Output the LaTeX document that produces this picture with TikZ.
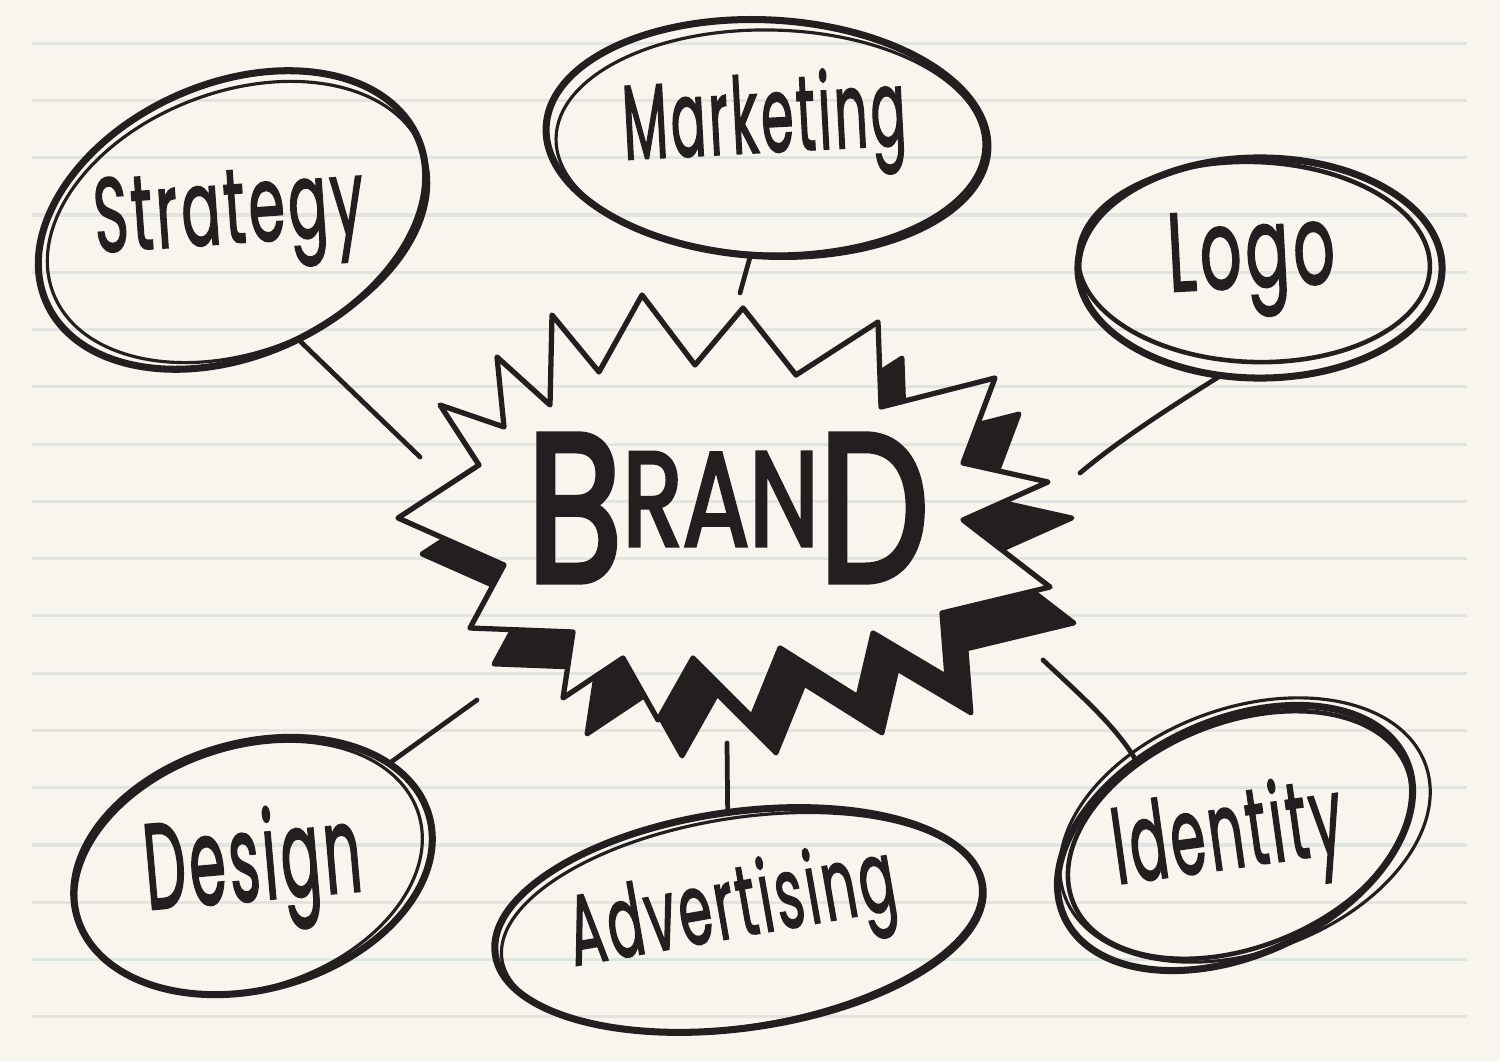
\documentclass[tikz,border=0pt]{standalone}
\usepackage{fontspec}
\setmainfont{Poppins}
\newfontfamily\hand{Poppins}[FakeBold=2.2, LetterSpace=6]
\newfontfamily\handbig{Poppins}[FakeBold=3]
\usetikzlibrary{shapes.geometric}
\definecolor{paper}{HTML}{F8F5EE}
\definecolor{rulecol}{HTML}{E1E5E2}
\definecolor{ink}{HTML}{231F20}
\newlength\pxu \setlength\pxu{0.01cm}
\newcommand\burstpath{(398,518) -- (479,465) -- (440,405) -- (504,427) -- (497,357) -- (550,405) -- (552,315) -- (599,372) -- (642,295) -- (695,365) -- (743,308) -- (796,375) -- (878,322) -- (881,407) -- (995,378) -- (963,463) -- (1048,482) -- (963,520) -- (1050,587) -- (942,613) -- (947,677) -- (873,633) -- (858,697) -- (780,648) -- (752,717) -- (693,658) -- (658,720) -- (623,658) -- (563,698) -- (573,632) -- (470,628) -- (504,565) -- cycle}
\newcommand\paperlines{\foreach \k in {0,...,17} {\draw[rulecol, line width=0.9pt] (32,{43.3+57.26*\k}) -- (1467,{43.3+57.26*\k});}}
\begin{document}
\begin{tikzpicture}[x=0.01cm, y=-0.01cm,
  ring/.style={draw=ink, line width=2pt, ellipse, inner sep=0pt, outer sep=0pt},
  ringthin/.style={draw=ink, line width=0.9pt},
  ringmid/.style={draw=ink, line width=1.3pt},
  link/.style={draw=ink, line width=1.35pt, line cap=round},
  lbl/.style={text=ink, inner sep=0pt, anchor=base, font=\hand}]
\useasboundingbox (0,0) rectangle (1500,1061);
\fill[paper] (0,0) rectangle (1500,1061);
\paperlines

% starburst
\filldraw[ink, line width=1.4pt, line join=round, shift={(24,36)}] \burstpath;
\fill[paper] \burstpath;
\begin{scope}
  \clip \burstpath;
  \paperlines
\end{scope}
\draw[ink, line width=1.5pt, line join=round] \burstpath;
\node[text=ink, inner sep=0pt, font=\handbig] (brand) at (728,508) {\scalebox{0.74}[1]{\fontsize{60}{60}\selectfont B\raisebox{10.2pt}{\fontsize{38}{38}\selectfont RAN}D}};

% bubbles
\node[ring, minimum width=4.06cm, minimum height=2.72cm, rotate=24] (strategyE) at (232,220) {};
\draw[ringthin, rotate around={21:(238,222)}] (238,222) ellipse [x radius=198, y radius=130];
\node[lbl, rotate=4] (strategy) at (231,243) {\resizebox{270\pxu}{74\pxu}{Strategy}};

\node[ring, minimum width=4.42cm, minimum height=2.36cm, rotate=-3] (marketingE) at (767,138) {};
\draw[ringthin, rotate around={-1:(770,142)}] (770,142) ellipse [x radius=214, y radius=112];
\node[lbl, rotate=3] (marketing) at (766,152) {\resizebox{283\pxu}{80\pxu}{Marketing}};

\node[ring, minimum width=3.64cm, minimum height=2.20cm] (logoE) at (1260,268) {};
\draw[ringmid, rotate around={-2:(1254,262)}] (1254,262) ellipse [x radius=176, y radius=100];
\node[lbl, rotate=3] (logo) at (1253,287) {\resizebox{167\pxu}{77\pxu}{Logo}};

\node[ring, minimum width=3.66cm, minimum height=2.46cm, rotate=16] (designE) at (253,866) {};
\draw[ringthin, rotate around={18:(249,868)}] (249,868) ellipse [x radius=178, y radius=120];
\node[lbl, rotate=5] (design) at (256,900) {\resizebox{217\pxu}{92\pxu}{Design}};

\node[ring, minimum width=4.92cm, minimum height=2.16cm, rotate=8] (advertisingE) at (739,920) {};
\draw[ringthin, rotate around={9:(741,922)}] (741,922) ellipse [x radius=242, y radius=104];
\node[lbl, rotate=10] (advertising) at (737,937) {\resizebox{330\pxu}{75\pxu}{Advertising}};

\node[ring, minimum width=3.76cm, minimum height=2.34cm, rotate=25] (identityE) at (1235,838) {};
\draw[ringmid, rotate around={22:(1240,835)}] (1240,835) ellipse [x radius=180, y radius=112];
\draw[ringthin, rotate around={20:(1245,830)}] (1245,830) ellipse [x radius=192, y radius=122];
\node[lbl, rotate=8] (identity) at (1232,868) {\resizebox{231\pxu}{82\pxu}{Identity}};

% connectors
\coordinate (strategyEnd) at (420,457);
\coordinate (marketingEnd) at (740,293);
\coordinate (logoEnd) at (1080,473);
\coordinate (identityEnd) at (1043,660);
\coordinate (advertisingEnd) at (727,743);
\coordinate (designEnd) at (477,700);
\draw[link] (strategyE.-85) -- (strategyEnd);
\draw[link] (marketingE.-95) -- (marketingEnd);
\draw[link] (logoE.-110) .. controls (1190,395) and (1125,435) .. (logoEnd);
\draw[link] (identityEnd) .. controls (1080,695) and (1115,725) .. (identityE.117);
\draw[link] (advertisingEnd) -- (advertisingE.88);
\draw[link] (designEnd) -- (designE.21);
\end{tikzpicture}
\end{document}
